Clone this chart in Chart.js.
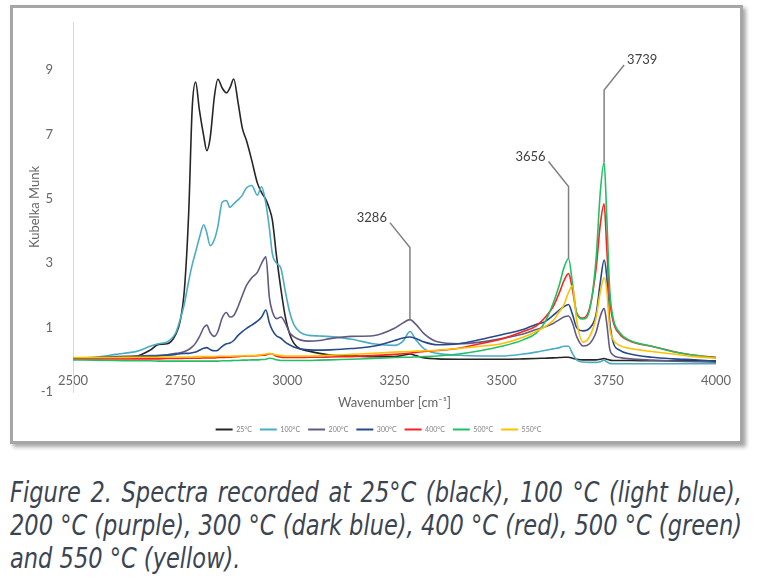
<!DOCTYPE html>
<html lang="en">
<head>
<meta charset="utf-8">
<title>Spectra</title>
<script src="https://cdn.jsdelivr.net/npm/chart.js@4.4.1/dist/chart.umd.min.js"></script>
<style>
	body { margin: 0; background: #ffffff; }
	.page { position: relative; width: 760px; height: 583px; overflow: hidden; }
	.cadre { position: absolute; left: 10px; top: 5px; width: 727px; height: 433px; border: 3px solid #a6a6a6; box-shadow: 3px 3px 4px rgba(0, 0, 0, 0.35); }
	#graphique-spectres { position: absolute; left: 0; top: 0; }
	.legende-figure { position: absolute; left: 10px; top: 476px; font-family: "Liberation Sans Narrow", "DejaVu Sans Condensed", "Noto Sans", sans-serif; font-stretch: condensed; font-style: italic; font-size: 29px; line-height: 33px; color: #3b4552; }
	.legende-figure div { white-space: nowrap; transform-origin: left center; }
</style>
</head>
<body>
<div class="page">
	<div class="cadre"></div>
	<canvas id="graphique-spectres" width="760" height="450"></canvas>
	<div class="legende-figure">
		<div class="ligne justifier"><span>Figure 2. Spectra recorded at 25°C (black), 100 °C (light blue),</span></div>
		<div class="ligne justifier"><span>200 °C (purple), 300 °C (dark blue), 400 °C (red), 500 °C (green)</span></div>
		<div class="ligne"><span>and 550 °C (yellow).</span></div>
	</div>
</div>
<script>
// nombres d'onde (cm-1) communs a toutes les series
const nombresOnde = [
	2500, 2550, 2600, 2650, 2680, 2700, 2720, 2740, 2750, 2760,
	2770, 2778, 2786, 2795, 2805, 2812, 2820, 2830, 2838, 2848,
	2858, 2866, 2875, 2885, 2895, 2905, 2917, 2930, 2940, 2950,
	2958, 2965, 2975, 2985, 2995, 3005, 3015, 3030, 3050, 3075,
	3100, 3150, 3200, 3250, 3270, 3286, 3300, 3320, 3350, 3400,
	3450, 3500, 3550, 3580, 3600, 3620, 3635, 3645, 3656, 3665,
	3675, 3690, 3705, 3720, 3730, 3739, 3745, 3752, 3760, 3775,
	3800, 3850, 3900, 3950, 4000
];

const km25 = [
	0.05, 0.04, 0.07, 0.12, 0.3, 0.48, 0.5, 0.8, 1.2, 2.2,
	4.6, 7.8, 8.63, 7.75, 6.95, 6.5, 6.9, 8.2, 8.72, 8.45,
	8.3, 8.45, 8.73, 8.0, 7.2, 6.8, 6.2, 5.5, 5.2, 4.98,
	4.7, 4.35, 3.2, 2.2, 1.35, 0.82, 0.52, 0.34, 0.27, 0.2,
	0.15, 0.12, 0.1, 0.1, 0.14, 0.18, 0.13, 0.06, 0.03, 0.02,
	0.02, 0.02, 0.03, 0.04, 0.05, 0.06, 0.07, 0.08, 0.08, 0.05,
	0.02, 0.0, 0.0, 0.0, 0.02, 0.04, 0.02, -0.01, -0.02, -0.02,
	-0.02, -0.03, -0.03, -0.03, -0.03
];
const km100 = [
	0.06, 0.08, 0.17, 0.27, 0.42, 0.5, 0.56, 0.85, 1.25, 1.75,
	2.45, 2.95, 3.35, 3.8, 4.2, 3.95, 3.55, 3.75, 4.15, 4.9,
	4.95, 4.74, 4.85, 4.97, 5.12, 5.35, 5.42, 5.12, 5.38, 4.85,
	4.1, 3.3, 3.0, 2.85, 2.15, 1.5, 1.1, 0.85, 0.76, 0.74,
	0.72, 0.64, 0.5, 0.45, 0.58, 0.88, 0.62, 0.33, 0.2, 0.14,
	0.12, 0.12, 0.18, 0.24, 0.29, 0.34, 0.38, 0.42, 0.42, 0.2,
	0.0, -0.07, -0.08, -0.08, -0.06, -0.01, -0.06, -0.11, -0.12, -0.12,
	-0.12, -0.12, -0.12, -0.12, -0.12
];
const km200 = [
	0.05, 0.07, 0.1, 0.12, 0.13, 0.14, 0.16, 0.2, 0.22, 0.26,
	0.32, 0.4, 0.52, 0.72, 1.0, 1.08, 0.85, 0.73, 0.88, 1.3,
	1.47, 1.33, 1.38, 1.65, 2.0, 2.32, 2.55, 2.72, 3.0, 3.2,
	1.95, 1.5, 1.28, 1.33, 1.15, 0.85, 0.72, 0.62, 0.58, 0.6,
	0.66, 0.73, 0.75, 0.98, 1.15, 1.25, 1.1, 0.8, 0.56, 0.5,
	0.55, 0.66, 0.8, 0.94, 1.02, 1.13, 1.25, 1.33, 1.36, 1.15,
	0.72, 0.43, 0.5, 0.85, 1.35, 1.6, 1.15, 0.35, 0.15, 0.07,
	0.03, -0.01, -0.04, -0.06, -0.07
];
const km300 = [
	0.05, 0.06, 0.08, 0.1, 0.11, 0.12, 0.14, 0.17, 0.19, 0.2,
	0.2, 0.22, 0.24, 0.3, 0.36, 0.38, 0.32, 0.28, 0.3, 0.42,
	0.5, 0.52, 0.6, 0.76, 0.88, 0.98, 1.08, 1.2, 1.33, 1.55,
	1.15, 0.92, 0.74, 0.67, 0.55, 0.47, 0.4, 0.34, 0.31, 0.3,
	0.31, 0.35, 0.42, 0.6, 0.68, 0.71, 0.66, 0.55, 0.47, 0.5,
	0.63, 0.78, 0.94, 1.1, 1.18, 1.38, 1.55, 1.65, 1.72, 1.42,
	1.0, 0.9, 0.98, 1.4, 2.4, 3.1, 2.6, 1.2, 0.55, 0.3,
	0.18, 0.08, 0.03, 0.0, -0.04
];
const km400 = [
	0.03, 0.03, 0.03, 0.03, 0.03, 0.03, 0.04, 0.04, 0.04, 0.05,
	0.05, 0.05, 0.05, 0.05, 0.06, 0.06, 0.06, 0.06, 0.07, 0.07,
	0.08, 0.08, 0.09, 0.1, 0.11, 0.12, 0.12, 0.13, 0.14, 0.15,
	0.19, 0.18, 0.11, 0.08, 0.07, 0.07, 0.07, 0.07, 0.08, 0.08,
	0.09, 0.1, 0.13, 0.17, 0.19, 0.21, 0.23, 0.26, 0.29, 0.36,
	0.5, 0.65, 0.88, 1.05, 1.3, 1.65, 2.1, 2.45, 2.68, 2.2,
	1.45, 1.3, 1.6, 2.8, 4.2, 4.85, 3.5, 1.9, 1.2, 0.8,
	0.58, 0.42, 0.26, 0.14, 0.08
];
const km500 = [
	0.0, -0.01, -0.02, -0.03, -0.03, -0.04, -0.04, -0.04, -0.04, -0.04,
	-0.04, -0.04, -0.04, -0.04, -0.04, -0.04, -0.04, -0.04, -0.04, -0.03,
	-0.03, -0.03, -0.02, -0.02, -0.01, -0.01, 0.0, 0.0, 0.01, 0.02,
	0.05, 0.04, 0.0, -0.02, -0.02, -0.02, -0.02, -0.02, -0.02, -0.01,
	0.0, 0.02, 0.04, 0.07, 0.08, 0.08, 0.09, 0.1, 0.12, 0.18,
	0.28, 0.42, 0.62, 0.82, 1.15, 1.75, 2.35, 2.85, 3.15, 2.4,
	1.45, 1.27, 1.55, 3.1, 5.2, 6.15, 4.5, 2.2, 1.3, 0.85,
	0.6, 0.42, 0.25, 0.14, 0.06
];
const km550 = [
	0.07, 0.07, 0.07, 0.08, 0.08, 0.08, 0.09, 0.09, 0.09, 0.09,
	0.09, 0.09, 0.1, 0.1, 0.1, 0.1, 0.1, 0.1, 0.11, 0.11,
	0.11, 0.11, 0.12, 0.12, 0.12, 0.13, 0.13, 0.14, 0.16, 0.18,
	0.2, 0.18, 0.15, 0.13, 0.12, 0.12, 0.12, 0.12, 0.12, 0.13,
	0.14, 0.17, 0.2, 0.24, 0.25, 0.26, 0.27, 0.28, 0.3, 0.35,
	0.42, 0.5, 0.7, 0.88, 1.02, 1.22, 1.5, 1.7, 2.1, 2.3,
	1.2, 0.55, 0.72, 1.3, 2.1, 2.55, 2.2, 1.0, 0.63, 0.45,
	0.35, 0.26, 0.18, 0.1, 0.05
];

const nomsSeries = ["25°C", "100°C", "200°C", "300°C", "400°C", "500°C", "550°C"];
const valeursSeries = [km25, km100, km200, km300, km400, km500, km550];
const graduationsX = [2500, 2750, 3000, 3250, 3500, 3750, 4000];
const graduationsY = [-1, 1, 3, 5, 7, 9];
// pics annotes : nombre d'onde et hauteur du sommet marque
const picsNombres = [3286, 3656, 3739];
const picsSommets = [1.25, 3.15, 6.15];

const couleurs = ["#262626", "#4bacc6", "#625a82", "#264a8c", "#ff2020", "#22c063", "#ffc000"];
const police = "Lato, 'Open Sans', sans-serif";
const grisTexte = "#666666";

Chart.defaults.font.family = police;
Chart.defaults.color = grisTexte;

const datasets = [];
for (let i = 0; i < valeursSeries.length; i++) {
	datasets.push({
		label: nomsSeries[i],
		data: nombresOnde.map((x, j) => ({x: x, y: valeursSeries[i][j]})),
		borderColor: couleurs[i],
		backgroundColor: couleurs[i],
		borderWidth: 1.6,
		pointRadius: 0,
		cubicInterpolationMode: "monotone",
		order: valeursSeries.length - i,
	});
}

// lignes de rappel et etiquettes des pics
const pluginPics = {
	id: "pics",
	afterDatasetsDraw(chart) {
		const ctx = chart.ctx;
		const echX = chart.scales.x;
		const echY = chart.scales.y;
		const sens = [-1, -1, 1];
		ctx.save();
		ctx.strokeStyle = "#808080";
		ctx.lineWidth = 1.5;
		ctx.fillStyle = "#404040";
		ctx.font = "13px " + police;
		ctx.textBaseline = "middle";
		for (let i = 0; i < picsNombres.length; i++) {
			const px = echX.getPixelForValue(picsNombres[i]);
			const pyBas = echY.getPixelForValue(picsSommets[i]);
			const pyCoude = pyBas - 72;
			const bx = px + sens[i] * 20;
			const by = pyCoude - 25;
			ctx.beginPath();
			ctx.moveTo(px, pyBas);
			ctx.lineTo(px, pyCoude);
			ctx.lineTo(bx, by);
			ctx.stroke();
			ctx.textAlign = sens[i] < 0 ? "right" : "left";
			ctx.fillText(String(picsNombres[i]), bx + sens[i] * 3, by - 5);
		}
		ctx.restore();
	}
};

const config = {
	type: "line",
	data: {datasets: datasets},
	options: {
		responsive: false,
		animation: false,
		devicePixelRatio: 1,
		layout: {padding: {left: 41, right: 44, top: 22, bottom: 7}},
		scales: {
			x: {
				type: "linear",
				position: {y: 0},
				min: 2500,
				max: 4000,
				afterBuildTicks: scale => { scale.ticks = graduationsX.map(v => ({value: v})); },
				afterFit: scale => { scale.height = 26; },
				grid: {display: false},
				border: {display: false},
				ticks: {padding: 5, font: {size: 13}, color: grisTexte, maxRotation: 0, callback: v => String(v)},
				title: {display: true, text: "Wavenumber [cm⁻¹]", font: {size: 13}, color: grisTexte, padding: {top: 4, bottom: -24.8}},
			},
			y: {
				type: "linear",
				position: "left",
				min: -1,
				max: 10.5,
				afterBuildTicks: scale => { scale.ticks = graduationsY.map(v => ({value: v})); },
				afterFit: scale => { scale.width = 32; },
				grid: {display: false},
				border: {display: true, color: "#d9d9d9", width: 1},
				ticks: {padding: 12, font: {size: 13}, color: grisTexte, callback: v => String(v)},
				title: {display: true, text: "Kubelka Munk", font: {size: 13}, color: grisTexte, padding: {top: -13.8, bottom: 4}},
			},
		},
		plugins: {
			tooltip: {enabled: false},
			legend: {
				position: "bottom",
				// titre vide : reserve la place du titre de l'axe x au-dessus de la legende
				title: {display: true, text: " ", font: {size: 7}, padding: {top: 0, bottom: 17.6}},
				labels: {
					boxWidth: 17,
					boxHeight: 2,
					padding: 8,
					font: {size: 7},
					color: "#808080",
					generateLabels: chart => Chart.defaults.plugins.legend.labels.generateLabels(chart).map(l => Object.assign(l, {lineWidth: 0})),
					sort: (a, b) => a.datasetIndex - b.datasetIndex,
				},
			},
		},
	},
	plugins: [pluginPics],
};

const graphSpectres = new Chart(document.querySelector("#graphique-spectres"), config);

// ajustement de la legende de figure sur la largeur du cadre
const lignes = document.querySelectorAll(".legende-figure .ligne");
const largeurCible = 732;
let echelle = 1;
for (let i = 0; i < lignes.length; i++) {
	if (!lignes[i].classList.contains("justifier")) continue;
	const l = lignes[i].querySelector("span").getBoundingClientRect().width;
	echelle = Math.min(echelle, largeurCible / l);
}
for (let i = 0; i < lignes.length; i++) {
	const span = lignes[i].querySelector("span");
	lignes[i].style.transform = "scaleX(" + echelle + ")";
	if (lignes[i].classList.contains("justifier")) {
		const l = span.getBoundingClientRect().width / echelle;
		const espaces = (span.textContent.match(/ /g) || []).length;
		const reste = largeurCible / echelle - l;
		if (espaces > 0 && reste > 0) span.style.wordSpacing = (reste / espaces) + "px";
	}
}
</script>
</body>
</html>
